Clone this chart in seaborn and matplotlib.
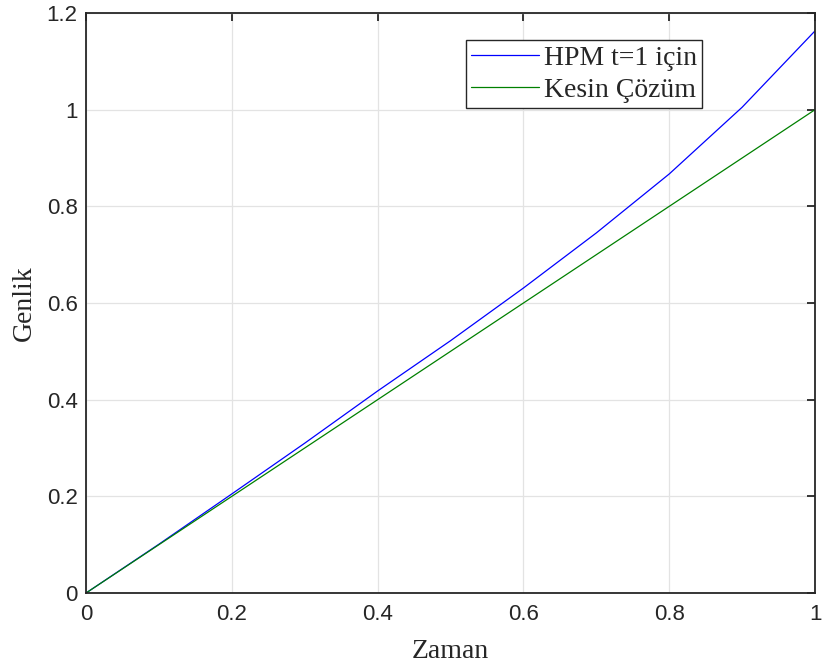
import matplotlib
matplotlib.use("Agg")
import matplotlib.pyplot as plt
import seaborn as sns
import pandas as pd

zaman = [0.0, 0.1, 0.2, 0.3, 0.4, 0.5, 0.6, 0.7, 0.8, 0.9, 1.0]
hpm = [0.0, 0.101, 0.205, 0.310, 0.418, 0.522, 0.631, 0.745, 0.867, 1.005, 1.163]
kesin = [0.0, 0.1, 0.2, 0.3, 0.4, 0.5, 0.6, 0.7, 0.8, 0.9, 1.0]
labels = ["HPM t=1 için", "Kesin Çözüm"]
xticks = [0, 0.2, 0.4, 0.6, 0.8, 1]
yticks = [0, 0.2, 0.4, 0.6, 0.8, 1, 1.2]

sns.set_style("white")
plt.rcParams['font.family'] = ['Liberation Sans', 'DejaVu Sans']

df = pd.DataFrame({
    "Zaman": zaman * 2,
    "Genlik": hpm + kesin,
    "seri": [labels[0]] * len(zaman) + [labels[1]] * len(zaman),
})

fig = plt.figure(figsize=(8.23, 6.71), dpi=100)
ax = fig.add_axes([0.1045, 0.1162, 0.9903 - 0.1045, 0.9806 - 0.1162])
sns.lineplot(data=df, x="Zaman", y="Genlik", hue="seri",
             palette={labels[0]: "#0000ff", labels[1]: "#008000"},
             linewidth=0.9, ax=ax, legend=True)

ax.set_xlim(0, 1)
ax.set_ylim(0, 1.2)
ax.set_xticks(xticks)
ax.set_xticklabels(["0", "0.2", "0.4", "0.6", "0.8", "1"])
ax.set_yticks(yticks)
ax.set_yticklabels(["0", "0.2", "0.4", "0.6", "0.8", "1", "1.2"])
ax.grid(True, color="#e3e3e3", linewidth=0.9)
ax.set_axisbelow(True)
for s in ax.spines.values():
    s.set_color("#262626")
    s.set_linewidth(1.3)
ax.tick_params(direction="in", length=6, width=1.3, color="#262626",
               top=True, right=True, labelsize=16, labelcolor="#262626")
ax.tick_params(axis="x", pad=8)
ax.tick_params(axis="y", pad=6)
ax.set_xlabel("Zaman", family=["Liberation Serif"], fontsize=20, labelpad=10)
ax.set_ylabel("Genlik", family=["Liberation Serif"], fontsize=20, labelpad=7)

leg = ax.legend(loc="upper right", bbox_to_anchor=(0.853, 0.940),
                bbox_transform=fig.transFigure,
                prop={"family": "Liberation Serif", "size": 20},
                frameon=True, fancybox=False, framealpha=1,
                edgecolor="#262626", borderpad=0.19, handlelength=2.45,
                handletextpad=0.15, labelspacing=0.23, borderaxespad=0)
leg.get_frame().set_linewidth(1.0)

fig.savefig("out.png", dpi=100)
